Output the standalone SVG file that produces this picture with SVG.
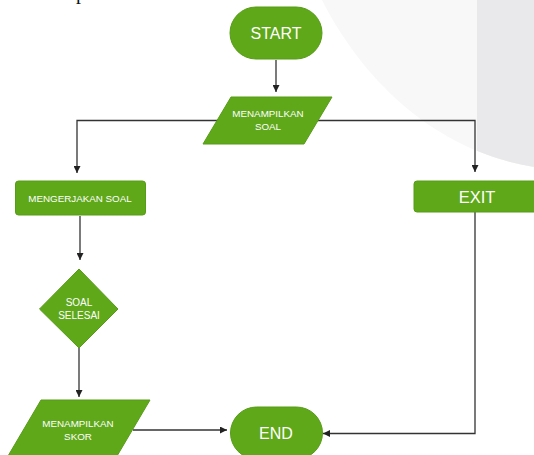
<svg xmlns="http://www.w3.org/2000/svg" width="534" height="455" viewBox="0 0 534 455">
<style>
.bg{fill:#f8f8f8}
.band{fill:#e9e9eb}
.node{fill:#5fa81a;stroke:#579c17;stroke-width:1}
.t{fill:#ffffff;font-family:"Liberation Sans",Arial,sans-serif;text-anchor:middle;dominant-baseline:central}
.s{font-size:9.8px}
.b{font-size:16px}
.c{fill:none;stroke:#333333;stroke-width:1.3}
</style>
<defs>
<marker id="arr" viewBox="0 0 10 10" refX="10" refY="5" markerWidth="7" markerHeight="7" markerUnits="userSpaceOnUse" orient="auto">
<path d="M0,0 L10,5 L0,10 Z" fill="#222222"/>
</marker>
<clipPath id="circ"><path d="M322,0 C360,75 430,150 534,167 L534,0 Z"/></clipPath>
</defs>
<rect width="534" height="455" fill="#ffffff"/>
<path class="bg" d="M322,0 C360,75 430,150 534,167 L534,0 Z"/>
<rect class="band" x="477" y="0" width="57" height="200" clip-path="url(#circ)"/>
<text x="76" y="-1" font-family="Liberation Serif,serif" font-size="20" fill="#111">p</text>

<g id="connectors">
<path class="c" d="M276,60 V92" marker-end="url(#arr)"/>
<path class="c" d="M218,120.5 H77 V173" marker-end="url(#arr)"/>
<path class="c" d="M318,120.5 H475 V172" marker-end="url(#arr)"/>
<path class="c" d="M80,216 V260" marker-end="url(#arr)"/>
<path class="c" d="M79,348 V397" marker-end="url(#arr)"/>
<path class="c" d="M133,430 H227" marker-end="url(#arr)"/>
<path class="c" d="M475,212 V433.5 H323" marker-end="url(#arr)"/>
</g>

<g id="start">
<rect class="node" x="230" y="7" width="92" height="52" rx="26"/>
<text class="t b" x="276" y="33">START</text>
</g>
<g id="tampil-soal">
<polygon class="node" points="231,97 332,97 304,144 203,144"/>
<text class="t s" x="268" y="113.5">MENAMPILKAN</text>
<text class="t s" x="268" y="126">SOAL</text>
</g>
<g id="mengerjakan">
<rect class="node" x="15.5" y="181" width="130" height="34" rx="3"/>
<text class="t s" x="80" y="198">MENGERJAKAN SOAL</text>
</g>
<g id="exit">
<rect class="node" x="414" y="181" width="126" height="31" rx="3"/>
<text class="t" font-size="16.5" x="477" y="196.5">EXIT</text>
</g>
<g id="selesai">
<polygon class="node" points="79,269 118,309 79,348 39.5,309"/>
<text class="t" font-size="10" x="79" y="302.5">SOAL</text>
<text class="t" font-size="10" x="79" y="315">SELESAI</text>
</g>
<g id="tampil-skor">
<polygon class="node" points="41,400 150,400 117,456 8,456"/>
<text class="t s" x="78" y="423.5">MENAMPILKAN</text>
<text class="t s" x="78" y="436.5">SKOR</text>
</g>
<g id="end">
<rect class="node" x="230.5" y="407" width="92" height="52" rx="26"/>
<text class="t b" x="276" y="433">END</text>
</g>
</svg>
